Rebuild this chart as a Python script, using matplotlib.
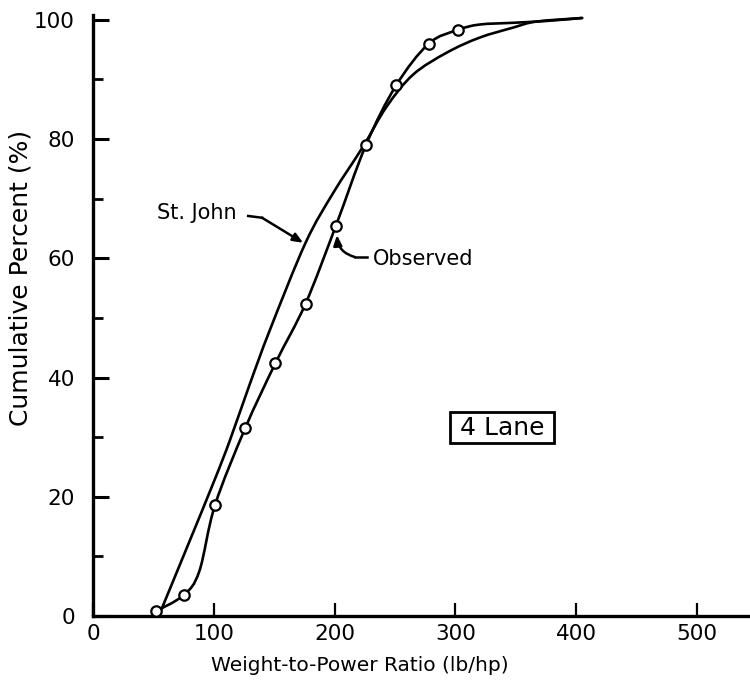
import matplotlib
matplotlib.use("Agg")
import matplotlib.pyplot as plt
from matplotlib.ticker import MultipleLocator
from matplotlib.path import Path
from matplotlib.patches import PathPatch, Rectangle

# Observed data points (weight-to-power ratio, cumulative percent)
obs_x = [52, 75, 101, 126, 151, 176, 201, 226, 251, 278, 302]
obs_y = [0.8, 3.5, 18.6, 31.5, 42.4, 52.4, 65.4, 79.0, 89.0, 96.0, 98.3]

# Observed curve as drawn (through the points, plus the bend/tail)
obs_curve_x = [52, 75, 88, 101, 126, 151, 176, 201, 226, 251, 278, 302, 320, 348, 375, 405]
obs_curve_y = [0.8, 3.5, 7.5, 18.6, 31.5, 42.4, 52.4, 65.4, 79.0, 89.0, 96.0, 98.3, 99.2, 99.5, 99.8, 100.3]

# St. John curve
sj_x = [55, 78, 101, 113.4, 130, 146.5, 176, 199, 223.5, 243, 265, 293, 320, 348, 367, 405]
sj_y = [0.3, 11.6, 23.0, 29.5, 39.0, 48.0, 62.6, 71.0, 78.7, 85.4, 90.8, 94.5, 97.0, 98.7, 99.7, 100.3]

x_ticks = [0, 100, 200, 300, 400, 500]
y_ticks = [0, 20, 40, 60, 80, 100]

plt.rcParams['font.family'] = ['DejaVu Sans']


def smooth_path(xs, ys):
    """Catmull-Rom curve through the given points as cubic Bezier segments."""
    pts = list(zip(xs, ys))
    n = len(pts)
    verts = [pts[0]]
    codes = [Path.MOVETO]
    for i in range(n - 1):
        p0 = pts[i - 1] if i > 0 else pts[i]
        p1 = pts[i]
        p2 = pts[i + 1]
        p3 = pts[i + 2] if i + 2 < n else pts[i + 1]
        c1 = (p1[0] + (p2[0] - p0[0]) / 6.0, p1[1] + (p2[1] - p0[1]) / 6.0)
        c2 = (p2[0] - (p3[0] - p1[0]) / 6.0, p2[1] - (p3[1] - p1[1]) / 6.0)
        verts += [c1, c2, p2]
        codes += [Path.CURVE4] * 3
    return Path(verts, codes)


fig = plt.figure(figsize=(7.5, 6.83), dpi=100)
ax = fig.add_axes([0.124, 0.098, 0.876, 0.880])

lw = 1.9
for xs, ys in [(sj_x, sj_y), (obs_curve_x, obs_curve_y)]:
    ax.add_patch(PathPatch(smooth_path(xs, ys), fc='none', ec='black', lw=lw,
                           capstyle='round', joinstyle='round', zorder=2))
ax.plot(obs_x, obs_y, linestyle='none', marker='o', ms=7.5, mfc='white',
        mec='black', mew=1.6, zorder=3)

ax.set_xlim(0, 544)
ax.set_ylim(0, 100.8)

ax.spines['top'].set_visible(False)
ax.spines['right'].set_visible(False)
ax.spines['left'].set_linewidth(2.4)
ax.spines['bottom'].set_linewidth(2.4)

ax.set_xticks(x_ticks)
ax.set_yticks(y_ticks)
ax.yaxis.set_minor_locator(MultipleLocator(10))
ax.tick_params(axis='y', which='major', direction='in', length=11.5, width=2.2,
               pad=13, labelsize=15.5)
ax.tick_params(axis='y', which='minor', direction='in', length=7, width=2.0)
ax.tick_params(axis='x', which='major', direction='in', length=9.5, width=1.6,
               pad=6, labelsize=15.5)

ax.set_xlabel('Weight-to-Power Ratio (lb/hp)', fontsize=14.5, va='center')
ax.xaxis.set_label_coords(0.406, -0.0815)
ax.set_ylabel('Cumulative Percent (%)', fontsize=18, va='center')
ax.yaxis.set_label_coords(-0.111, 0.562)

# St. John label with leader
ax.text(53, 67.6, 'St. John', fontsize=15, ha='left', va='center')
ax.plot([128.5, 140], [67.1, 66.8], color='black', lw=1.8)
ax.annotate('', xy=(174, 62.6), xytext=(140, 66.8),
            arrowprops=dict(arrowstyle='-|>,head_length=0.6,head_width=0.25',
                            color='black', lw=1.8, shrinkA=0, shrinkB=0))

# Observed label with leader
ax.text(231.5, 59.9, 'Observed', fontsize=15, ha='left', va='center')
ax.plot([217, 227], [60.2, 60.2], color='black', lw=1.8)
ax.annotate('', xy=(202, 63.9), xytext=(217, 60.2),
            arrowprops=dict(arrowstyle='-|>,head_length=0.6,head_width=0.25',
                            color='black', lw=1.8, shrinkA=0, shrinkB=0,
                            connectionstyle='arc3,rad=-0.35'))

# 4 Lane box
ax.add_patch(Rectangle((295.5, 29.0), 86.1, 5.2, fc='white', ec='black', lw=2.0,
                       zorder=4))
ax.text(338.6, 31.5, '4 Lane', fontsize=18, ha='center', va='center', zorder=5)

fig.savefig('out.png', dpi=100)
